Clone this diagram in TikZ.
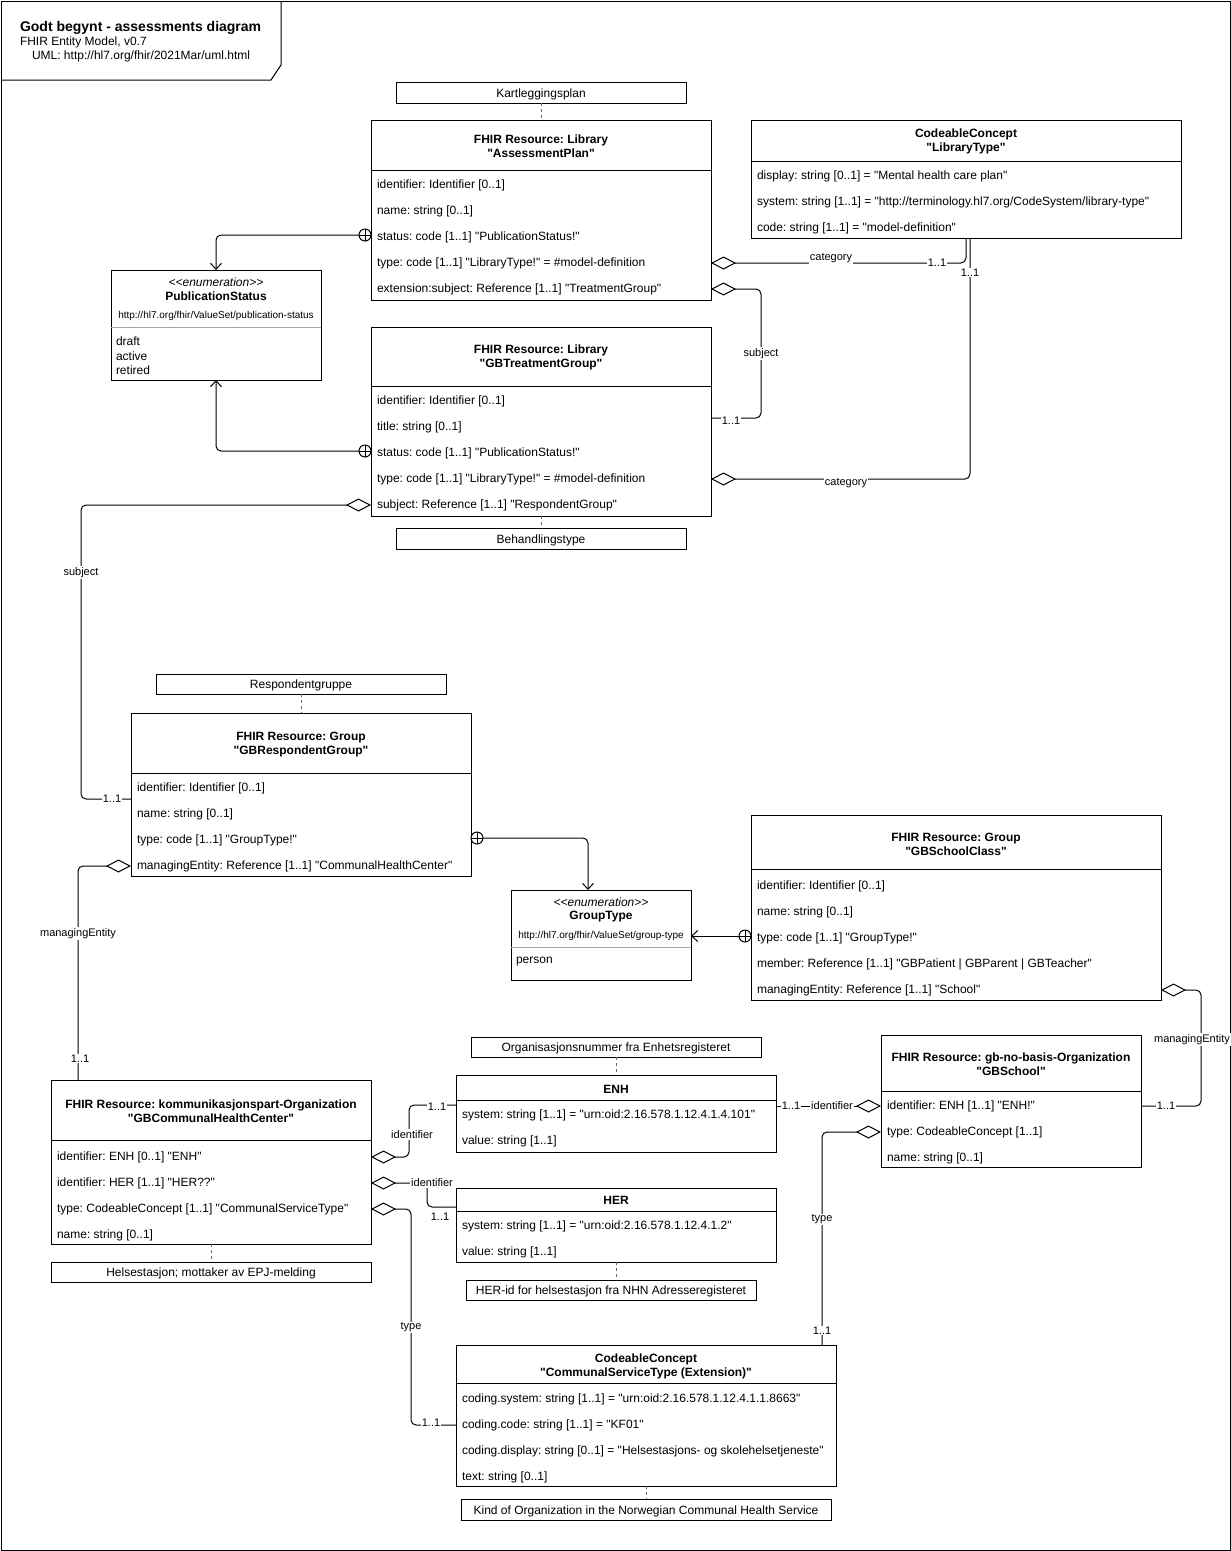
\documentclass[tikz,border=0pt]{standalone}
\usepackage{fontspec}
\setmainfont{Liberation Sans}
\newfontfamily\lib{Liberation Sans}
\usetikzlibrary{arrows.meta,calc}
\newcommand\myfs[2]{\fontsize{#1}{#2}\selectfont}
\frenchspacing
\begin{document}
\frenchspacing
\begin{tikzpicture}[x=1pt,y=-1pt,
  every node/.style={inner sep=0pt, outer sep=0pt, font=\lib\frenchspacing\myfs{12}{14}, text=black},
  box/.style={draw=black, line width=1pt, anchor=north west},
  note/.style={draw=black, line width=1pt, anchor=north west, align=center, text height=9.2pt, text depth=0pt},
  attr/.style={anchor=west, yshift=-2pt},
  ttl/.style={align=center, yshift=-1.5pt, font=\lib\frenchspacing\bfseries\myfs{12}{14}},
  stereo/.style={yshift=-1.5pt, font=\lib\itshape\myfs{12}{14}},
  bname/.style={yshift=-1.5pt, font=\lib\bfseries\myfs{12}{14}},
  url/.style={yshift=-1pt, font=\lib\myfs{10}{12}},
  lbl/.style={font=\lib\myfs{11}{13}, fill=white, inner sep=1pt, yshift=-1.5pt},
  oplus/.style={circle, draw=black, line width=1pt, fill=white, minimum size=12pt,
    path picture={\draw[line width=1pt] (path picture bounding box.north) -- (path picture bounding box.south)
      (path picture bounding box.west) -- (path picture bounding box.east);}},
  conn/.style={draw=black, line width=1pt, rounded corners=5pt},
  agg/.style={conn, {Diamond[open, length=25pt, width=13pt]}-},
  arr/.style={conn, -{Straight Barb[length=6pt, width=11pt]}},
  dash link/.style={draw=black!60, line width=1pt, dash pattern=on 3pt off 3pt},
  divider/.style={draw=black, line width=1pt},
  enumdiv/.style={draw=black!35, line width=1pt},
]
\useasboundingbox (0,0) rectangle (1231,1551);

% ---------- frame and title ----------
\node[draw=black, line width=1pt, anchor=north west, minimum width=1229, minimum height=1549] (frame) at (1,1) {};
\draw[line width=1pt] (1,80) -- (271,80) -- (281,65) -- (281,1);
\node[anchor=west, yshift=-1.5pt, font=\lib\bfseries\myfs{14}{16}] (ttl1) at (20,26) {Godt begynt - assessments diagram};
\node[anchor=west, yshift=-1.5pt] (ttl2) at (20,41) {FHIR Entity Model, v0.7};
\node[anchor=west, yshift=-1.5pt] (ttl3) at (32,55) {UML: http://hl7.org/fhir/2021Mar/uml.html};

% ---------- AssessmentPlan ----------
\node[note, minimum width=290, minimum height=21] (kp) at (396,82) {Kartleggingsplan};
\node[box, minimum width=340, minimum height=180] (ap) at (371,120) {};
\node[ttl] (apt) at (541,145) {FHIR Resource: Library\\"AssessmentPlan"};
\draw[divider] ($(ap.north west)+(0,50)$) -- ($(ap.north east)+(0,50)$);
\node[attr] (ap1) at (377,183) {identifier: Identifier [0..1]};
\node[attr] (ap2) at (377,209) {name: string [0..1]};
\node[attr] (ap3) at (377,235) {status: code [1..1] "PublicationStatus!"};
\node[attr] (ap4) at (377,261) {type: code [1..1] "LibraryType!" = \#model-definition};
\node[attr] (ap5) at (377,287) {extension:subject: Reference [1..1] "TreatmentGroup"};
\draw[dash link] (kp.south) -- (ap.north);

% ---------- LibraryType ----------
\node[box, minimum width=430, minimum height=118] (lt) at (751,120) {};
\node[ttl] (ltt) at (966,140) {CodeableConcept\\"LibraryType"};
\draw[divider] ($(lt.north west)+(0,41)$) -- ($(lt.north east)+(0,41)$);
\node[attr] (lt1) at (757,174) {display: string [0..1] = "Mental health care plan"};
\node[attr] (lt2) at (757,200) {system: string [1..1] = "http://terminology.hl7.org/CodeSystem/library-type"};
\node[attr] (lt3) at (757,226) {code: string [1..1] = "model-definition"};

% ---------- PublicationStatus ----------
\node[box, minimum width=210, minimum height=110] (pub) at (111,270) {};
\node[stereo] (pub0) at (216,281) {<<enumeration>>};
\node[bname] (pubn) at (216,295) {PublicationStatus};
\node[url] (pubu) at (216,315) {http://hl7.org/fhir/ValueSet/publication-status};
\draw[enumdiv] ($(pub.north west)+(0,57)$) -- ($(pub.north east)+(0,57)$);
\node[attr] (pub1) at (116,339) {draft};
\node[attr] (pub2) at (116,354) {active};
\node[attr] (pub3) at (116,368) {retired};

% ---------- GBTreatmentGroup ----------
\node[box, minimum width=340, minimum height=189] (tg) at (371,327) {};
\node[ttl] (tgt) at (541,356) {FHIR Resource: Library\\"GBTreatmentGroup"};
\draw[divider] ($(tg.north west)+(0,59)$) -- ($(tg.north east)+(0,59)$);
\node[attr] (tg1) at (377,399) {identifier: Identifier [0..1]};
\node[attr] (tg2) at (377,425) {title: string [0..1]};
\node[attr] (tg3) at (377,451) {status: code [1..1] "PublicationStatus!"};
\node[attr] (tg4) at (377,477) {type: code [1..1] "LibraryType!" = \#model-definition};
\node[attr] (tg5) at (377,503) {subject: Reference [1..1] "RespondentGroup"};
\node[note, minimum width=290, minimum height=21] (bt) at (396,528) {Behandlingstype};
\draw[dash link] (tg.south) -- (bt.north);

% ---------- GBRespondentGroup ----------
\node[note, minimum width=290, minimum height=20] (rgp) at (156,674) {Respondentgruppe};
\node[box, minimum width=340, minimum height=163] (rg) at (131,713) {};
\node[ttl] (rgt) at (301,743) {FHIR Resource: Group\\"GBRespondentGroup"};
\draw[divider] ($(rg.north west)+(0,60)$) -- ($(rg.north east)+(0,60)$);
\node[attr] (rg1) at (137,786) {identifier: Identifier [0..1]};
\node[attr] (rg2) at (137,812) {name: string [0..1]};
\node[attr] (rg3) at (137,838) {type: code [1..1] "GroupType!"};
\node[attr] (rg4) at (137,864) {managingEntity: Reference [1..1] "CommunalHealthCenter"};
\draw[dash link] (rgp.south) -- (rg.north);

% ---------- GroupType ----------
\node[box, minimum width=180, minimum height=90] (gt) at (511,890) {};
\node[stereo] (gt0) at (601,901) {<<enumeration>>};
\node[bname] (gtn) at (601,915) {GroupType};
\node[url] (gtu) at (601,935) {http://hl7.org/fhir/ValueSet/group-type};
\draw[enumdiv] ($(gt.north west)+(0,57)$) -- ($(gt.north east)+(0,57)$);
\node[attr] (gt1) at (516,960) {person};

% ---------- GBSchoolClass ----------
\node[box, minimum width=410, minimum height=185] (sc) at (751,815) {};
\node[ttl] (sct) at (956,843) {FHIR Resource: Group\\"GBSchoolClass"};
\draw[divider] ($(sc.north west)+(0,54)$) -- ($(sc.north east)+(0,54)$);
\node[attr] (sc1) at (757,884) {identifier: Identifier [0..1]};
\node[attr] (sc2) at (757,910) {name: string [0..1]};
\node[attr] (sc3) at (757,936) {type: code [1..1] "GroupType!"};
\node[attr] (sc4) at (757,962) {member: Reference [1..1] "GBPatient \textbar{} GBParent \textbar{} GBTeacher"};
\node[attr] (sc5) at (757,988) {managingEntity: Reference [1..1] "School"};

% ---------- ENH ----------
\node[note, minimum width=290, minimum height=20] (enhn) at (471,1037) {Organisasjonsnummer fra Enhetsregisteret};
\node[box, minimum width=320, minimum height=77] (enh) at (456,1075) {};
\node[bname] (enht) at (616,1088) {ENH};
\draw[divider] ($(enh.north west)+(0,25)$) -- ($(enh.north east)+(0,25)$);
\node[attr] (enh1) at (462,1113) {system: string [1..1] = "urn:oid:2.16.578.1.12.4.1.4.101"};
\node[attr] (enh2) at (462,1139) {value: string [1..1]};
\draw[dash link] (enhn.south) -- (enh.north);

% ---------- GBSchool ----------
\node[box, minimum width=260, minimum height=132] (sch) at (881,1035) {};
\node[ttl] (scht) at (1011,1063) {FHIR Resource: gb-no-basis-Organization\\"GBSchool"};
\draw[divider] ($(sch.north west)+(0,56)$) -- ($(sch.north east)+(0,56)$);
\node[attr] (sch1) at (887,1104) {identifier: ENH [1..1] "ENH!"};
\node[attr] (sch2) at (887,1130) {type: CodeableConcept [1..1]};
\node[attr] (sch3) at (887,1156) {name: string [0..1]};

% ---------- GBCommunalHealthCenter ----------
\node[box, minimum width=320, minimum height=164] (chc) at (51,1080) {};
\node[ttl] (chct) at (211,1110) {FHIR Resource: kommunikasjonspart-Organization\\"GBCommunalHealthCenter"};
\draw[divider] ($(chc.north west)+(0,60)$) -- ($(chc.north east)+(0,60)$);
\node[attr] (chc1) at (57,1155) {identifier: ENH [0..1] "ENH"};
\node[attr] (chc2) at (57,1181) {identifier: HER [1..1] "HER??"};
\node[attr] (chc3) at (57,1207) {type: CodeableConcept [1..1] "CommunalServiceType"};
\node[attr] (chc4) at (57,1233) {name: string [0..1]};
\node[note, minimum width=320, minimum height=20] (chcn) at (51,1262) {Helsestasjon; mottaker av EPJ-melding};
\draw[dash link] (chc.south) -- (chcn.north);

% ---------- HER ----------
\node[box, minimum width=320, minimum height=74] (her) at (456,1188) {};
\node[bname] (hert) at (616,1199) {HER};
\draw[divider] ($(her.north west)+(0,23)$) -- ($(her.north east)+(0,23)$);
\node[attr] (her1) at (462,1224) {system: string [1..1] = "urn:oid:2.16.578.1.12.4.1.2"};
\node[attr] (her2) at (462,1250) {value: string [1..1]};
\node[note, minimum width=290, minimum height=20] (hern) at (466,1280) {HER-id for helsestasjon fra NHN Adresseregisteret};
\draw[dash link] (her.south) -- (her.south |- hern.north);

% ---------- CommunalServiceType ----------
\node[box, minimum width=380, minimum height=141] (cst) at (456,1345) {};
\node[ttl] (cstt) at (646,1365) {CodeableConcept\\"CommunalServiceType (Extension)"};
\draw[divider] ($(cst.north west)+(0,38)$) -- ($(cst.north east)+(0,38)$);
\node[attr] (cst1) at (462,1397) {coding.system: string [1..1] = "urn:oid:2.16.578.1.12.4.1.1.8663"};
\node[attr] (cst2) at (462,1423) {coding.code: string [1..1] = "KF01"};
\node[attr] (cst3) at (462,1449) {coding.display: string [0..1] = "Helsestasjons- og skolehelsetjeneste"};
\node[attr] (cst4) at (462,1475) {text: string [0..1]};
\node[note, minimum width=370, minimum height=21] (kind) at (461,1499) {Kind of Organization in the Norwegian Communal Health Service};
\draw[dash link] (cst.south) -- (kind.north);

% ---------- containment markers ----------
\node[oplus] (opA) at (365,235) {};
\node[oplus] (opB) at (365,451) {};
\node[oplus] (opG) at (477,838) {};
\node[oplus] (opH) at (745,936) {};

% ---------- connectors ----------
\draw[arr] (opA.west) -| (pub.north);
\draw[arr] (opB.west) -| (pub.south);
\draw[arr] (opG.east) -| ($(gt.north)+(-13,0)$);
\draw[arr] (opH.west) -- (gt.east |- opH);

\draw[agg] (ap.east |- ap4) -| (lt.south);
\node[lbl] (lC1) at (831,257) {category};
\node[lbl] (lC2) at (937,261) {1..1};

\draw[agg] (tg.east |- tg4) -| ($(lt.south)+(4,0)$);
\node[lbl] (lD1) at (846,482) {category};
\node[lbl] (lD2) at (970,271) {1..1};

\draw[agg] (ap.east |- ap5) -| ($(tg.north east)+(50,60)$) |- ($(tg.north east)+(0,91)$);
\node[lbl] (lE1) at (761,352) {subject};
\node[lbl] (lE2) at (731,419) {1..1};

\draw[agg] (tg.west |- tg5) -| ($(rg.north west)+(-50,-100)$) |- ($(rg.north west)+(0,86)$);
\node[lbl] (lF1) at (81,571) {subject};
\node[lbl] (lF2) at (112,797) {1..1};

\draw[agg] (rg.west |- rg4) -| ($(chc.north west)+(27,0)$);
\node[lbl] (lI1) at (78,932) {managingEntity};
\node[lbl] (lI2) at (80,1057) {1..1};

\draw[agg] (sc.east |- sc5) -| ($(sch.north east)+(60,10)$) |- (sch.east |- sch1);
\node[lbl] (lJ1) at (1192,1038) {managingEntity};
\node[lbl] (lJ2) at (1166,1104) {1..1};

\draw[agg] (sch.west |- sch1) -- (enh.east |- sch1);
\node[lbl] (lK1) at (832,1104) {identifier};
\node[lbl] (lK2) at (791,1104) {1..1};

\draw[agg] (sch.west |- sch2) -| ($(cst.north east)+(-14,0)$);
\node[lbl] (lL1) at (822,1218) {type};
\node[lbl] (lL2) at (822,1329) {1..1};

\draw[agg] (chc.east |- chc1) -| ($(enh.north west)+(-47,60)$) |- ($(enh.north west)+(0,30)$);
\node[lbl] (lM1) at (412,1133) {identifier};
\node[lbl] (lM2) at (437,1105) {1..1};

\draw[agg] (chc.east |- chc2) -| ($(her.north west)+(-29,10)$) |- ($(her.north west)+(0,19)$);
\node[lbl] (lN1) at (432,1181) {identifier};
\node[lbl] (lN2) at (440,1215) {1..1};

\draw[agg] (chc.east |- chc3) -| ($(cst.north west)+(-45,20)$) |- (cst.west |- cst2);
\node[lbl] (lO1) at (411,1326) {type};
\node[lbl] (lO2) at (431,1421) {1..1};

\end{tikzpicture}
\end{document}
